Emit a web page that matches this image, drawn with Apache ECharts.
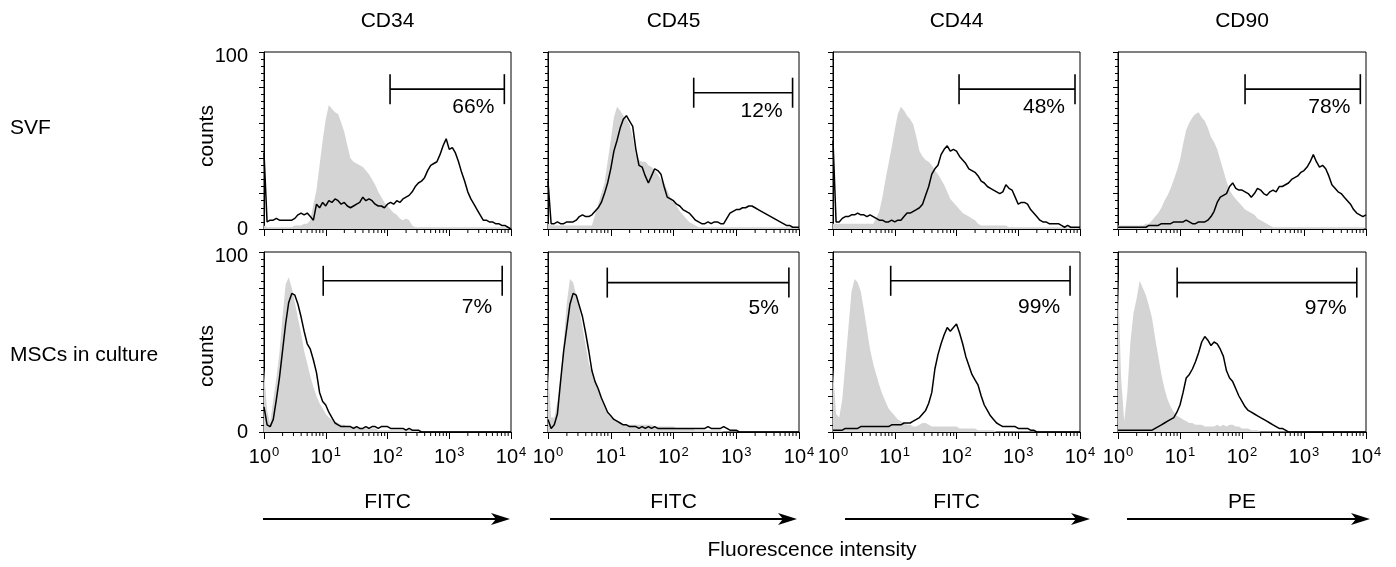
<!DOCTYPE html>
<html><head><meta charset="utf-8">
<script src="https://cdn.jsdelivr.net/npm/echarts@6/dist/echarts.min.js"></script>
<style>html,body{margin:0;padding:0;background:#fff}#c{width:1396px;height:567px}</style>
</head><body><div id="c"></div>
<script>
// ---- data ----
const CHANNELS = [
  1, 1.122, 1.259, 1.413, 1.585, 1.778, 1.995, 2.239, 2.512, 2.818, 3.162, 3.548, 3.981, 4.467, 5.012, 5.623, 6.310, 7.079, 7.943, 8.913,
  10, 11.22, 12.59, 14.13, 15.85, 17.78, 19.95, 22.39, 25.12, 28.18, 31.62, 35.48, 39.81, 44.67, 50.12, 56.23, 63.10, 70.79, 79.43, 89.13,
  100, 112.2, 125.9, 141.3, 158.5, 177.8, 199.5, 223.9, 251.2, 281.8, 316.2, 354.8, 398.1, 446.7, 501.2, 562.3, 631.0, 707.9, 794.3, 891.3,
  1000, 1122, 1259, 1413, 1585, 1778, 1995, 2239, 2512, 2818, 3162, 3548, 3981, 4467, 5012, 5623, 6310, 7079, 7943, 8913,
  10000
];
const MARKERS = ['CD34', 'CD45', 'CD44', 'CD90'];
const ROWS = ['SVF', 'MSCs in culture'];
const FLUORS = ['FITC', 'FITC', 'FITC', 'PE'];
const X_AXIS_TITLE = 'Fluorescence intensity';
const Y_AXIS_TITLE = 'counts';
const MINOR_TICKS = [2,3,4,5,6,7,8,9,20,30,40,50,60,70,80,90,200,300,400,500,600,700,800,900,2000,3000,4000,5000,6000,7000,8000,9000];

// SVF row (isotype = grey, antibody = black line)
const SVF_CD34_ISO = [2,1,1,1,1,1,1,1,1,1, 2,2,2,3,3,5,14,22,36,50, 62,70,68,66,65,60,55,47,40,38, 37,36,35,33,31,28,25,21,18,15, 13,11,9,8,6,5,6,5,2,1, 1,1,1,1,1,1,1,1,1,1, 1,1,1,1,1,1,1,1,1,1, 1,1,1,1,1,1,1,1,1,1, 0];
const SVF_CD34_AB  = [43,4,5,5,6,5,5,5,5,5, 6,8,9,8,9,7,5,14,12,15, 13,16,15,17,16,14,15,13,12,13, 14,15,18,16,17,16,14,13,13,12, 14,15,14,16,15,17,18,19,21,24, 26,27,29,33,36,37,38,42,47,51, 45,46,43,38,32,27,21,17,14,11, 8,5,5,4,4,3,3,2,2,1, 0];
const SVF_CD45_ISO = [3,2,2,2,2,2,2,2,2,2, 2,2,2,2,2,8,14,20,26,38, 50,63,69,67,64,62,59,52,42,39, 38,38,36,35,33,31,28,26,22,18, 16,13,10,8,6,4,3,2,1,1, 1,1,1,1,1,1,1,1,1,1, 1,1,1,1,1,1,1,1,1,1, 1,1,1,1,1,1,1,1,1,1, 0];
const SVF_CD45_AB  = [27,3,3,4,3,3,4,4,4,5, 7,8,7,7,8,10,12,15,20,26, 34,44,50,57,62,64,61,58,45,36, 35,30,26,30,34,33,31,24,18,17, 16,14,13,11,10,9,7,5,4,3, 3,4,3,4,4,3,3,6,9,10, 11,11,12,12,13,13,12,11,10,9, 8,7,6,5,4,3,2,2,1,1, 1];
const SVF_CD44_ISO = [3,3,3,3,3,3,3,3,3,3, 3,3,3,3,6,10,18,28,37,46, 56,65,69,67,64,62,59,52,44,41, 39,38,36,33,31,28,25,21,17,15, 13,11,9,8,7,6,5,3,2,2, 2,2,2,2,2,2,2,1,1,1, 1,1,1,1,1,1,1,1,1,1, 1,1,1,1,1,1,1,1,1,1, 0];
const SVF_CD44_AB  = [50,4,4,6,7,7,8,8,9,8, 8,7,8,7,6,5,5,4,4,5, 4,5,5,7,9,9,10,11,12,14, 19,24,31,34,36,42,45,47,44,45, 44,41,39,37,34,33,32,30,27,26, 24,23,22,21,20,21,25,23,22,18, 14,15,15,14,11,9,7,5,4,4, 3,3,3,3,2,1,2,1,1,1, 1];
const SVF_CD90_ISO = [2,2,2,2,2,2,2,2,2,3, 3,5,7,9,12,16,19,23,28,33, 39,48,56,60,63,65,66,63,61,57, 52,49,45,39,33,27,22,19,17,15, 13,11,10,9,8,6,5,4,3,2, 1,1,1,1,1,1,1,1,1,1, 1,1,1,1,1,1,1,1,1,1, 1,1,1,1,1,1,1,1,1,1, 1];
const SVF_CD90_AB  = [1,1,1,1,1,1,1,1,1,1, 2,2,2,2,3,3,3,3,4,4, 4,4,5,4,3,3,4,4,4,5, 7,10,15,18,19,20,24,26,23,22, 22,21,20,18,20,23,22,20,19,21, 22,21,24,24,25,26,28,29,30,32, 33,35,38,42,38,35,36,34,30,25, 23,21,20,18,16,14,11,9,8,7, 8];
// MSCs in culture row
const MSC_CD34_ISO = [35,12,5,18,30,44,64,82,86,80, 72,63,55,45,38,31,25,20,16,13, 10,8,7,6,5,4,4,3,3,3, 3,2,2,2,2,2,2,1,1,1, 1,1,1,1,1,1,1,1,1,1, 1,0,0,0,0,0,0,0,0,0, 0,0,0,0,0,0,0,0,0,0, 0,0,0,0,0,0,0,0,0,0, 0];
const MSC_CD34_AB  = [14,4,3,7,18,30,45,60,72,77, 76,71,64,56,49,46,40,33,22,17, 15,11,8,5,4,3,3,3,3,2, 3,2,2,3,2,3,3,2,3,3, 3,2,2,2,2,2,1,2,1,1, 1,0,0,0,0,0,0,0,0,0, 0,0,0,0,0,0,0,0,0,0, 0,0,0,0,0,0,0,0,0,0, 0];
const MSC_CD45_ISO = [36,8,8,17,30,50,72,85,83,76, 68,58,48,38,33,28,24,18,14,10, 8,7,6,5,4,4,4,4,4,4, 4,4,4,4,3,3,3,3,3,3, 3,2,2,2,2,2,2,1,1,1, 1,1,1,1,1,1,0,0,0,0, 0,0,0,0,0,0,0,0,0,0, 0,0,0,0,0,0,0,0,0,0, 0];
const MSC_CD45_AB  = [7,2,4,10,28,45,58,71,77,76, 70,64,55,45,34,28,24,19,15,11, 9,7,6,5,4,4,3,3,3,2, 3,2,3,2,3,2,2,2,2,2, 2,2,2,2,2,2,2,2,2,2, 2,3,2,2,2,2,3,2,1,1, 1,0,0,0,0,0,0,0,0,0, 0,0,0,0,0,0,0,0,0,0, 0];
const MSC_CD44_ISO = [35,10,8,18,38,58,78,85,83,78, 68,57,46,38,32,26,21,17,13,11, 9,7,6,5,4,4,3,3,4,5, 5,4,3,3,3,3,3,3,3,3, 3,2,2,2,2,2,2,1,1,1, 1,1,1,0,0,0,0,0,0,0, 0,0,0,0,0,0,0,0,0,0, 0,0,0,0,0,0,0,0,0,0, 0];
const MSC_CD44_AB  = [1,1,1,1,2,2,2,2,2,3, 3,3,3,3,3,3,3,3,3,4, 4,4,4,5,5,5,6,7,8,10, 12,16,22,35,43,49,54,58,56,58, 60,55,49,42,37,32,29,26,20,15, 12,9,7,5,4,3,3,3,3,3, 2,2,2,2,1,1,0,0,0,0, 0,0,0,0,0,0,0,0,0,0, 0];
const MSC_CD90_ISO = [87,30,6,22,50,66,74,84,80,76, 70,63,52,42,32,24,18,14,11,9, 8,7,6,5,5,4,4,4,3,3, 3,3,4,3,4,3,4,4,3,3, 2,2,2,1,1,1,0,0,0,0, 0,0,0,0,0,0,0,0,0,0, 0,0,0,0,0,0,0,0,0,0, 0,0,0,0,0,0,0,0,0,0, 0];
const MSC_CD90_AB  = [1,1,1,1,1,1,1,1,1,1, 1,1,2,3,4,5,6,7,8,11, 15,22,30,32,35,39,44,50,53,51, 48,50,49,46,42,34,30,28,24,20, 17,14,12,11,10,9,8,7,6,5, 4,3,2,2,1,0,0,0,0,0, 0,0,0,0,0,0,0,0,0,0, 0,0,0,0,0,0,0,0,0,0, 0];

// gates (marker positive region), panel order: SVF CD34..CD90, MSC CD34..CD90
const GATE_START = [110, 210, 110, 112, 9.1, 8.8, 8.6, 9.0];
const GATE_END   = [7800, 7900, 8300, 8100, 7200, 6900, 6900, 7100];
const GATE_LEVEL = [79, 77, 79, 79, 84, 83, 84, 83];
const GATE_LABELS = ['66%', '12%', '48%', '78%', '7%', '5%', '99%', '97%'];

// ---- layout / style ----
const ISO = [SVF_CD34_ISO, SVF_CD45_ISO, SVF_CD44_ISO, SVF_CD90_ISO, MSC_CD34_ISO, MSC_CD45_ISO, MSC_CD44_ISO, MSC_CD90_ISO];
const AB  = [SVF_CD34_AB, SVF_CD45_AB, SVF_CD44_AB, SVF_CD90_AB, MSC_CD34_AB, MSC_CD45_AB, MSC_CD44_AB, MSC_CD90_AB];
const FONT = '"Liberation Sans", Arial, Helvetica, sans-serif';
const colLeft = [264, 548, 833, 1118];
const colWidth = [247, 251, 247, 248];
const rowTop = [52, 252];
const rowHeight = [177, 180];
const labelDrop = [18, 26];

const grids = [], xAxes = [], yAxes = [], series = [];
for (let r = 0; r < 2; r++) {
  for (let c = 0; c < 4; c++) {
    const i = r * 4 + c;
    grids.push({left: colLeft[c], top: rowTop[r], width: colWidth[c], height: rowHeight[r],
      show: true, borderColor: '#000', borderWidth: 1, backgroundColor: 'transparent', containLabel: false});
    xAxes.push({type: 'log', logBase: 10, min: 1, max: 10000, gridIndex: i,
      axisLine: {show: true, lineStyle: {color: '#000', width: 1}},
      axisTick: {show: true, inside: false, length: 7, lineStyle: {color: '#000', width: 1}},
      minorTick: {show: false}, splitLine: {show: false}, minorSplitLine: {show: false},
      axisLabel: {show: r === 1, margin: 14, color: '#000', fontFamily: FONT,
        formatter: v => '{b|10}{s|' + Math.round(Math.log10(v)) + '}',
        rich: {b: {fontSize: 20, fontFamily: FONT, color: '#000', lineHeight: 22},
               s: {fontSize: 13, fontFamily: FONT, color: '#000', verticalAlign: 'top', lineHeight: 13, padding: [0, 0, 0, 1]}}}
    });
    yAxes.push({type: 'value', min: 0, max: 100, interval: 20, gridIndex: i,
      axisLine: {show: true, lineStyle: {color: '#000', width: 1}},
      axisTick: {show: true, inside: false, length: 5, lineStyle: {color: '#000', width: 1}},
      minorTick: {show: true, splitNumber: 5, length: 3, lineStyle: {color: '#000', width: 1}},
      splitLine: {show: false}, minorSplitLine: {show: false},
      axisLabel: {show: c === 0, margin: 16, color: '#000', fontSize: 20, fontFamily: FONT,
        formatter: v => v === 100 ? '{t|100}' : (v === 0 ? '0' : ''),
        rich: {t: {fontSize: 20, fontFamily: FONT, color: '#000', padding: [9, 0, 0, 0]}}}
    });
    series.push({type: 'line', xAxisIndex: i, yAxisIndex: i, symbol: 'none', silent: true, z: 1,
      data: CHANNELS.map((x, k) => [x, ISO[i][k]]),
      lineStyle: {width: 0, color: '#d4d4d4'}, areaStyle: {color: '#d4d4d4', opacity: 1}});
    series.push({type: 'line', xAxisIndex: i, yAxisIndex: i, symbol: 'none', silent: true, z: 2,
      data: CHANNELS.map((x, k) => [x, AB[i][k]]),
      lineStyle: {width: 1.5, color: '#000'}});
    series.push({type: 'custom', xAxisIndex: i, yAxisIndex: i, silent: true, clip: false, z: 3,
      data: MINOR_TICKS.map(v => [v, 0]),
      renderItem: (p, api) => {
        const pt = api.coord([api.value(0), 0]);
        return {type: 'line', shape: {x1: pt[0], y1: pt[1], x2: pt[0], y2: pt[1] + 4},
          style: {stroke: '#000', lineWidth: 1}};
      }});
    series.push({type: 'custom', xAxisIndex: i, yAxisIndex: i, silent: true, clip: false, z: 4,
      data: [[GATE_START[i], GATE_END[i], GATE_LEVEL[i]]],
      renderItem: (p, api) => {
        const a = api.coord([api.value(0), api.value(2)]);
        const b = api.coord([api.value(1), api.value(2)]);
        const st = {stroke: '#000', lineWidth: 1.6};
        return {type: 'group', children: [
          {type: 'line', shape: {x1: a[0], y1: a[1], x2: b[0], y2: b[1]}, style: st},
          {type: 'line', shape: {x1: a[0], y1: a[1] - 15, x2: a[0], y2: a[1] + 15}, style: st},
          {type: 'line', shape: {x1: b[0], y1: b[1] - 15, x2: b[0], y2: b[1] + 15}, style: st},
          {type: 'text', style: {text: GATE_LABELS[i], x: b[0] - 10, y: b[1] + labelDrop[r],
            align: 'right', verticalAlign: 'middle', fontSize: 21, fontFamily: FONT, fill: '#000'}}
        ]};
      }});
  }
}

const graphic = [];
const txt = (text, x, y, extra) => Object.assign({type: 'text', x: x, y: y, silent: true,
  style: {text: text, fontSize: 21, fontFamily: FONT, fill: '#000', align: 'center', verticalAlign: 'middle'}}, extra || {});
for (let c = 0; c < 4; c++) {
  const cx = colLeft[c] + colWidth[c] / 2;
  graphic.push(txt(MARKERS[c], cx, 21));
  graphic.push(txt(FLUORS[c], cx, 502));
}
const arrowL = [263, 550, 845, 1127], arrowR = [510, 797, 1090, 1370];
for (let c = 0; c < 4; c++) {
  const y = 519, x1 = arrowL[c], x2 = arrowR[c];
  graphic.push({type: 'line', silent: true, shape: {x1: x1, y1: y, x2: x2 - 8, y2: y}, style: {stroke: '#000', lineWidth: 2.2}});
  graphic.push({type: 'polygon', silent: true, shape: {points: [[x2, y], [x2 - 19, y - 6], [x2 - 14, y], [x2 - 19, y + 6]]}, style: {fill: '#000'}});
}
graphic.push(Object.assign(txt(ROWS[0], 10, 128), {style: {text: ROWS[0], fontSize: 21, fontFamily: FONT, fill: '#000', align: 'left', verticalAlign: 'middle'}}));
graphic.push(Object.assign(txt(ROWS[1], 10, 355), {style: {text: ROWS[1], fontSize: 21, fontFamily: FONT, fill: '#000', align: 'left', verticalAlign: 'middle'}}));
graphic.push(txt(Y_AXIS_TITLE, 207, 136, {rotation: Math.PI / 2}));
graphic.push(txt(Y_AXIS_TITLE, 207, 356, {rotation: Math.PI / 2}));
graphic.push(txt(X_AXIS_TITLE, 812, 550));

const chart = echarts.init(document.getElementById('c'), null, {renderer: 'canvas'});
chart.setOption({animation: false, backgroundColor: '#fff', grid: grids, xAxis: xAxes, yAxis: yAxes, series: series, graphic: graphic});
</script></body></html>
